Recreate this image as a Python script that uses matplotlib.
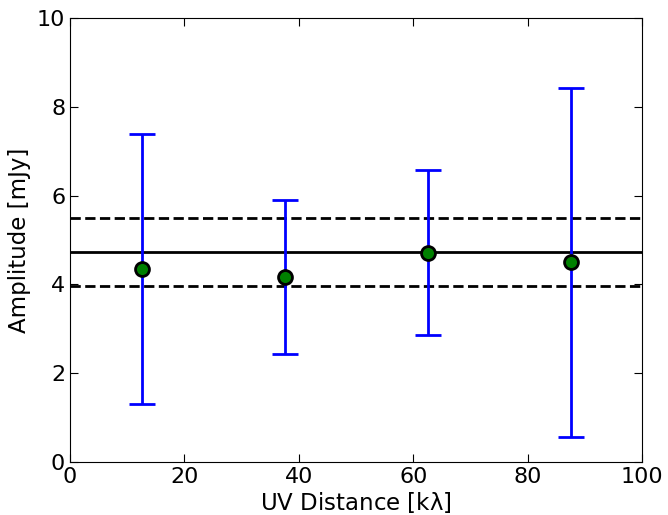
import numpy as np
import matplotlib
matplotlib.use("Agg")
import matplotlib.pyplot as plt

matplotlib.rcParams['mathtext.default'] = 'regular'

uv_dist = [12.5, 37.5, 62.5, 87.5]
amp = [4.35, 4.17, 4.71, 4.50]
amp_err = [3.04, 1.74, 1.86, 3.93]
mean_amp = 4.73
mean_err = 0.77

fig = plt.figure(figsize=(6.68, 5.15), dpi=100)
ax = fig.add_axes([70 / 668, 53 / 515, 572 / 668, 444 / 515])

ax.axhline(mean_amp, color='k', lw=2)
ax.axhline(mean_amp + mean_err, color='k', lw=2, ls='--')
ax.axhline(mean_amp - mean_err, color='k', lw=2, ls='--')

ax.errorbar(uv_dist, amp, yerr=amp_err, fmt='o', color='b', ecolor='b',
            elinewidth=2, capsize=9.5, capthick=2,
            mfc='green', mec='k', mew=2, ms=10)

ax.set_xlim(0, 100)
ax.set_ylim(0, 10)
ax.set_xticks(np.arange(0, 101, 20))
ax.set_yticks(np.arange(0, 11, 2))
ax.tick_params(direction='in', top=True, right=True, labelsize=16, length=6)
ax.set_xlabel(r'UV Distance [k$\lambda$]', fontsize=16.5, labelpad=2)
ax.set_ylabel('Amplitude [mJy]', fontsize=16.5)

fig.savefig('out.png', dpi=100)
